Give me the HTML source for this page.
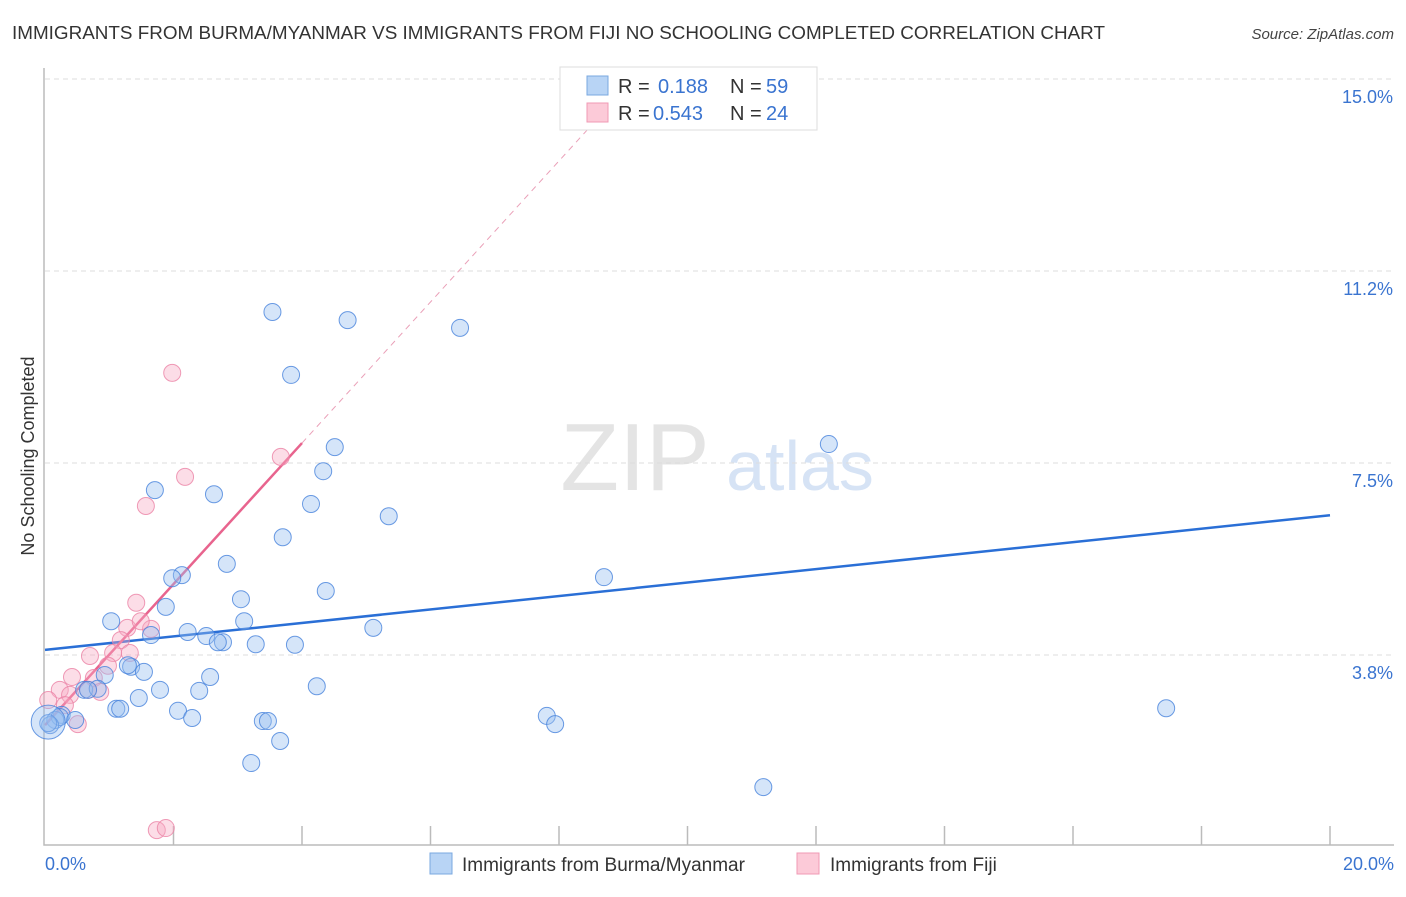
<!DOCTYPE html>
<html><head><meta charset="utf-8"><style>
body{margin:0;background:#fff;font-family:"Liberation Sans",sans-serif;}
svg text{font-family:"Liberation Sans",sans-serif;}
</style></head><body>
<svg id="c" width="1406" height="892" xmlns="http://www.w3.org/2000/svg">
<text x="12" y="39" font-size="18" textLength="1093" lengthAdjust="spacingAndGlyphs" fill="#333">IMMIGRANTS FROM BURMA/MYANMAR VS IMMIGRANTS FROM FIJI NO SCHOOLING COMPLETED CORRELATION CHART</text>
<text x="1394" y="39" font-size="15" fill="#444" font-style="italic" text-anchor="end">Source: ZipAtlas.com</text>
<text x="34" y="456" font-size="18" fill="#333" text-anchor="middle" transform="rotate(-90 34 456)">No Schooling Completed</text>
<g><text x="635" y="490" font-size="96" fill="#e4e4e4" font-family="Liberation Serif" text-anchor="middle">ZIP</text><text x="800" y="490" font-size="70" fill="#d6e3f5" text-anchor="middle">atlas</text></g>
<g id="grid"></g><g id="axes"></g><g id="lines"></g><g id="pts"></g>
<g>
<rect x="560" y="67" width="257" height="63" fill="#fff" stroke="#ddd"/>
<rect x="587" y="76" width="21" height="19" fill="#b8d4f5" stroke="#7aa8e0"/>
<rect x="587" y="103" width="21" height="19" fill="#fccad8" stroke="#f09ab4"/>
<text x="618" y="93" font-size="20" fill="#333">R =</text><text x="658" y="93" font-size="20" fill="#3a74d0">0.188</text>
<text x="730" y="93" font-size="20" fill="#333">N =</text><text x="766" y="93" font-size="20" fill="#3a74d0">59</text>
<text x="618" y="120" font-size="20" fill="#333">R =</text><text x="653" y="120" font-size="20" fill="#3a74d0">0.543</text>
<text x="730" y="120" font-size="20" fill="#333">N =</text><text x="766" y="120" font-size="20" fill="#3a74d0">24</text>
</g>
<g>
<rect x="430" y="853" width="22" height="21" fill="#b8d4f5" stroke="#7aa8e0"/>
<text x="462" y="871" font-size="19" fill="#333">Immigrants from Burma/Myanmar</text>
<rect x="797" y="853" width="22" height="21" fill="#fccad8" stroke="#f09ab4"/>
<text x="830" y="871" font-size="19" fill="#333">Immigrants from Fiji</text>
</g>
</svg>
<script>
const yTicks=[3.8,7.5,11.2,15.0];
const yTickVals=[3.75,7.5,11.25,15.0];
const xLabels=["0.0%","20.0%"];
const blueX=[3.54,4.71,6.46,3.83,4.51,12.2,4.33,1.71,2.63,4.14,5.35,3.70,2.83,2.13,1.98,8.70,4.37,3.05,1.88,1.03,3.10,5.11,1.65,2.22,2.51,2.77,3.28,3.89,1.34,1.54,0.93,2.57,0.61,0.82,1.79,2.40,4.23,1.46,1.11,1.17,2.07,17.45,2.29,0.26,7.81,7.94,3.39,3.47,3.66,3.21,11.18,0.16,0.23,0.08,0.05,0.67,0.47,1.29,2.69];
const blueY=[10.45,10.29,10.14,9.22,7.81,7.87,7.34,6.97,6.89,6.70,6.46,6.05,5.53,5.31,5.25,5.27,5.00,4.84,4.69,4.41,4.41,4.28,4.14,4.20,4.12,4.00,3.96,3.95,3.52,3.42,3.36,3.32,3.07,3.09,3.07,3.05,3.14,2.91,2.70,2.70,2.66,2.71,2.52,2.58,2.56,2.40,2.46,2.46,2.07,1.64,1.17,2.48,2.54,2.38,2.42,3.07,2.48,3.55,4.00];
const pinkX=[1.98,2.18,1.57,1.42,1.28,1.65,1.49,1.18,1.06,1.32,0.70,0.98,0.76,0.42,0.23,0.86,0.05,0.39,0.31,0.51,1.74,1.88,3.67,0.67];
const pinkY=[9.26,7.23,6.66,4.77,4.28,4.26,4.41,4.04,3.79,3.79,3.73,3.54,3.30,3.32,3.07,3.03,2.87,2.97,2.77,2.40,0.33,0.37,7.62,3.07];
const blueTrend=[0,3.85,20,6.48];
const pinkTrend=[0,2.38,4,7.89];
const NS='http://www.w3.org/2000/svg';
const X=v=>45+v/20*1285, Y=v=>847-v/3.75*192;
function mk(t,a,p){const e=document.createElementNS(NS,t);for(const k in a)e.setAttribute(k,a[k]);p.appendChild(e);return e;}
const grid=document.getElementById('grid'),axes=document.getElementById('axes'),lines=document.getElementById('lines'),pts=document.getElementById('pts');
yTickVals.forEach((v,i)=>{
 const l=mk('line',{x1:45,x2:1394,y1:Y(v),y2:Y(v),stroke:'#ddd','stroke-dasharray':'5,4'},grid);
 
 
 const t=mk('text',{x:1393,y:Y(v)+24,'font-size':18,fill:'#3a74d0','text-anchor':'end'},grid);
 t.textContent=yTicks[i].toFixed(1)+'%';
 
 
});
const ax=mk('path',{d:'M44 68 V845 H1394',fill:'none',stroke:'#bbb','stroke-width':1.5},axes);


for(let i=1;i<=10;i++){const tk=mk('line',{x1:X(i*2),x2:X(i*2),y1:826,y2:845,stroke:'#bbb','stroke-width':1.5},axes);
 
 }
[[45,'start'],[1394,'end']].forEach((p,i)=>{const t=mk('text',{x:p[0],y:870,'font-size':18,fill:'#3a74d0','text-anchor':p[1]},axes);t.textContent=xLabels[i];
 
 });
pinkX.forEach((x,i)=>{const c=mk('circle',{cx:X(x),cy:Y(pinkY[i]),r:8.5,fill:'rgba(248,170,195,0.4)',stroke:'rgba(235,130,165,0.8)','stroke-width':1},pts);
 
 });
blueX.forEach((x,i)=>{const c=mk('circle',{cx:X(x),cy:Y(blueY[i]),r:8.5,fill:'rgba(150,190,240,0.4)',stroke:'rgba(70,130,220,0.8)','stroke-width':1},pts);
 
 });
const big=mk('circle',{cx:X(0.05),cy:Y(2.44),r:17,fill:'rgba(150,190,240,0.4)',stroke:'rgba(70,130,220,0.8)'},pts);


const bl=mk('line',{x1:X(blueTrend[0]),y1:Y(blueTrend[1]),x2:X(blueTrend[2]),y2:Y(blueTrend[3]),stroke:'#2a6fd6','stroke-width':2.5},lines);


const slope=(pinkTrend[3]-pinkTrend[1])/(pinkTrend[2]-pinkTrend[0]);
const pe=mk('line',{x1:X(pinkTrend[2]),y1:Y(pinkTrend[3]),x2:X(8.8),y2:Y(pinkTrend[1]+slope*8.8),stroke:'#eaa0b8','stroke-width':1,'stroke-dasharray':'6,5'},lines);


const pl=mk('line',{x1:X(pinkTrend[0]),y1:Y(pinkTrend[1]),x2:X(pinkTrend[2]),y2:Y(pinkTrend[3]),stroke:'#e8648e','stroke-width':2.5},lines);


</script>
</body></html>
